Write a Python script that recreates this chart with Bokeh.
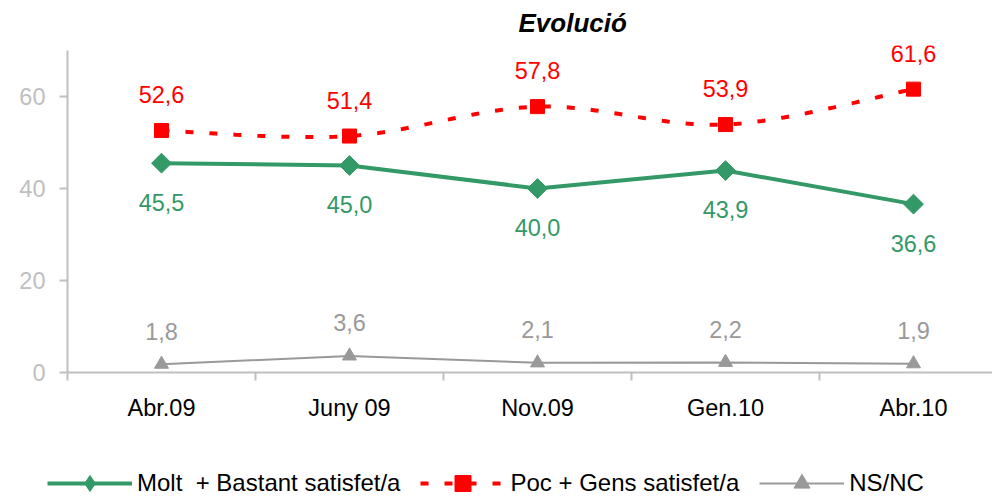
import numpy as np
from bokeh.plotting import figure
from bokeh.models import (ColumnDataSource, Range1d, FixedTicker, LabelSet, Legend,
                          LegendItem)
from bokeh.core.properties import value
from bokeh.embed import file_html
from bokeh.resources import INLINE

# ---- data ----
categories = ["Abr.09", "Juny 09", "Nov.09", "Gen.10", "Abr.10"]
molt_bastant = [45.5, 45.0, 40.0, 43.9, 36.6]
poc_gens = [52.6, 51.4, 57.8, 53.9, 61.6]
ns_nc = [1.8, 3.6, 2.1, 2.2, 1.9]
y_ticks = [0, 20, 40, 60]
y_max = 70

FONT = "Liberation Sans"
GREEN = "#339966"
RED = "#ff0000"
GRAY = "#999999"
AXIS = "#c0c0c0"

xs = list(range(len(categories)))

# layout (pixels)
W, H = 992, 496
TOP = 45            # frame top (title panel above)
X0_PX = 67          # where the value axis sits
PX_PER_CAT = 188.0
Y0_PX = 372         # pixel row of value 0
Y70_PX = 50         # pixel row of value 70
py = (Y0_PX - Y70_PX) / y_max
x_lo = -0.5 - X0_PX / PX_PER_CAT
x_hi = -0.5 + (W - X0_PX) / PX_PER_CAT
y_lo = -(H - Y0_PX) / py
y_hi = y_max + (Y70_PX - TOP) / py


def fmt(v):
    return f"{v:.1f}".replace(".", ",")


def smooth(x, y, n=40):
    P = np.column_stack([np.asarray(x, float), np.asarray(y, float)])
    out = []
    for i in range(len(P) - 1):
        p0 = P[i - 1] if i > 0 else P[i]
        p1 = P[i]
        p2 = P[i + 1]
        p3 = P[i + 2] if i + 2 < len(P) else P[i + 1]
        c1 = p1 + (p2 - p0) / 6.0
        c2 = p2 - (p3 - p1) / 6.0
        t = np.linspace(0, 1, n)[:, None]
        seg = ((1 - t) ** 3) * p1 + 3 * ((1 - t) ** 2) * t * c1 + 3 * (1 - t) * t ** 2 * c2 + t ** 3 * p2
        if i > 0:
            seg = seg[1:]
        out.append(seg)
    out = np.vstack(out)
    return out[:, 0], out[:, 1]


src_g = ColumnDataSource(dict(x=xs, y=molt_bastant, t=[fmt(v) for v in molt_bastant]))
src_r = ColumnDataSource(dict(x=xs, y=poc_gens, t=[fmt(v) for v in poc_gens]))
src_n = ColumnDataSource(dict(x=xs, y=ns_nc, t=[fmt(v) for v in ns_nc]))
sx, sy = smooth(xs, poc_gens)
src_rs = ColumnDataSource(dict(x=sx, y=sy))

p = figure(width=W, height=H, x_range=Range1d(x_lo, x_hi), y_range=Range1d(y_lo, y_hi),
           output_backend="svg", toolbar_location=None,
           min_border_left=0, min_border_right=0, min_border_top=TOP, min_border_bottom=0)
p.outline_line_color = None
p.xgrid.visible = False
p.ygrid.visible = False
p.background_fill_color = "white"

p.title.text = "Evolució"
p.title.text_font = FONT
p.title.text_font_size = "26px"
p.title.text_font_style = "bold italic"
p.title.text_color = "black"
p.title.align = "left"
p.title.offset = 518
p.title.vertical_align = "top"
p.title.standoff = 12

# axes
xa = p.xaxis[0]
xa.fixed_location = 0
xa.bounds = (-0.5, x_hi)
xa.ticker = FixedTicker(ticks=xs, minor_ticks=[-0.5, 0.5, 1.5, 2.5, 3.5])
xa.major_label_overrides = {i: c for i, c in enumerate(categories)}
xa.major_tick_out = 0
xa.major_tick_in = 0
xa.minor_tick_out = 8
xa.minor_tick_in = 0
xa.minor_tick_line_color = AXIS
xa.minor_tick_line_width = 2
xa.axis_line_color = AXIS
xa.axis_line_width = 2
xa.major_label_text_font = FONT
xa.major_label_text_font_size = "23.5px"
xa.major_label_text_color = "black"
xa.major_label_standoff = 14

ya = p.yaxis[0]
ya.fixed_location = -0.5
ya.bounds = (0, y_max)
ya.ticker = FixedTicker(ticks=y_ticks)
ya.minor_tick_line_color = None
ya.major_tick_out = 8
ya.major_tick_in = 0
ya.major_tick_line_color = AXIS
ya.major_tick_line_width = 2
ya.axis_line_color = AXIS
ya.axis_line_width = 2
ya.major_label_text_font = FONT
ya.major_label_text_font_size = "23.5px"
ya.major_label_text_color = "#bfbfbf"
ya.major_label_standoff = 14

# series
n_line = p.line("x", "y", source=src_n, line_color=GRAY, line_width=2)
n_pts = p.scatter("x", "y", source=src_n, marker="triangle", size=14,
                  fill_color=GRAY, line_color=GRAY)
g_line = p.line("x", "y", source=src_g, line_color=GREEN, line_width=4)
# diamond glyph (used for the legend swatch), covered by the rotated squares below
g_dia = p.scatter("x", "y", source=src_g, marker="diamond", size=13,
                  fill_color=GREEN, line_color=GREEN)
g_pts = p.scatter("x", "y", source=src_g, marker="square", angle=np.pi / 4, size=14,
                  fill_color=GREEN, line_color=GREEN)
r_line = p.line("x", "y", source=src_rs, line_color=RED, line_width=4, line_dash="8 16")
r_pts = p.scatter("x", "y", source=src_r, marker="square", size=14,
                  fill_color=RED, line_color=RED)

lbl_kw = dict(x="x", y="y", text="t", text_align="center", text_baseline="middle",
              text_font=value(FONT), text_font_size=value("23.5px"))
p.add_layout(LabelSet(source=src_r, y_offset=36, text_color=RED, **lbl_kw))
p.add_layout(LabelSet(source=src_g, y_offset=-39, text_color=GREEN, **lbl_kw))
p.add_layout(LabelSet(source=src_n, y_offset=33, text_color=GRAY, **lbl_kw))

legend = Legend(items=[
    LegendItem(label="Molt  + Bastant satisfet/a", renderers=[g_line, g_dia]),
    LegendItem(label="Poc + Gens satisfet/a", renderers=[r_line, r_pts]),
    LegendItem(label="NS/NC", renderers=[n_line, n_pts]),
], orientation="horizontal", location=(47, -7), glyph_width=85, glyph_height=40,
    label_height=40, label_standoff=5, spacing=20, padding=0, margin=0,
    border_line_color=None, background_fill_alpha=0,
    label_text_font=FONT, label_text_font_size="24px", label_text_color="black")
p.add_layout(legend, "center")

open("out.html", "w").write(file_html(p, INLINE))
